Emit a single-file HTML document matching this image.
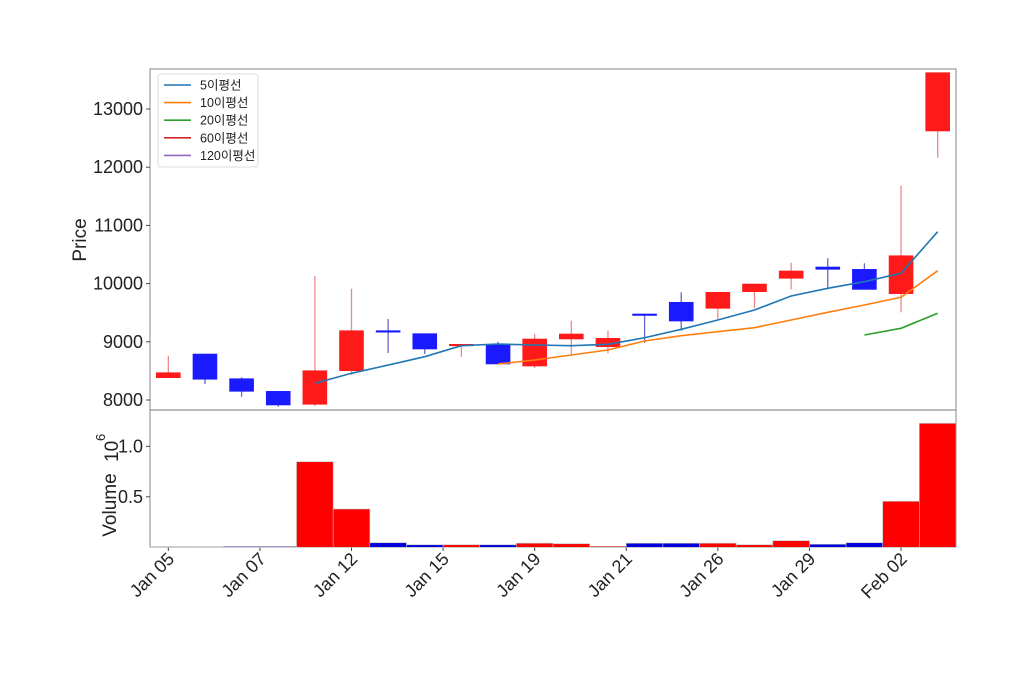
<!DOCTYPE html>
<html><head><meta charset="utf-8"><style>
body{margin:0;background:#fff;}
svg{display:block;font-family:"Liberation Sans","Noto Sans CJK KR",sans-serif;}
</style></head><body>
<svg id="chart" width="1024" height="677"></svg>
<script>
const opens  = [8383,8790,8366,8149,7926,8503,9191,9140,8935,8957,8584,9048,8916,9478,9679,9575,9861,10091,10285,10245,9827,12622];
const closes = [8469,8356,8149,7914,8503,9191,9180,8876,8957,8619,9048,9134,9060,9470,9357,9851,9993,10217,10245,9900,10479,13624];
const highs  = [8761,8790,8390,8149,10131,9912,9392,9140,8960,9002,9134,9363,9191,9478,9851,9851,9993,10359,10435,10349,11682,13624];
const lows   = [8383,8275,8057,7885,7900,8430,8808,8790,8744,8619,8550,8756,8802,8985,9191,9387,9575,9900,9900,9900,9506,12163];
const volumes = [0.003,0.005,0.008,0.008,0.847,0.379,0.045,0.025,0.025,0.025,0.04,0.035,0.01,0.04,0.04,0.04,0.025,0.065,0.03,0.045,0.455,1.227];
const ma5  = [null,null,null,null,8287,8459,8600,8744,8933,8962,8945,8933,8957,9070,9215,9375,9546,9787,9919,10033,10177,10892];
const ma10 = [null,null,null,null,null,null,null,null,null,8619,8687,8773,8859,9014,9105,9174,9243,9375,9507,9632,9765,10222];
const ma20 = [null,null,null,null,null,null,null,null,null,null,null,null,null,null,null,null,null,null,null,9117,9232,9490];
const priceTicks = [8000,9000,10000,11000,12000,13000];
const volTicks = [0.5,1.0];
const xTickPos = [0,2.5,5,7.5,10,12.5,15,17.5,20];
const xTickLabels = ["Jan 05","Jan 07","Jan 12","Jan 15","Jan 19","Jan 21","Jan 26","Jan 29","Feb 02"];
const legendLabels = ["5이평선","10이평선","20이평선","60이평선","120이평선"];
const legendColors = ["#1f77b4","#ff7f0e","#2ca02c","#d62728","#9467bd"];

const NS="http://www.w3.org/2000/svg";
const svg=document.getElementById('chart');
const L=150,R=956,PT=69,PB=410,VT=410,VB=547;
const x=i=>L+(i+0.5)*(R-L)/22;
const yP=p=>109+(13000-p)*58.2/1000;
const yV=v=>547.3-v*101;
const step=(R-L)/22;
function mk(tag,attrs,parent){const e=document.createElementNS(NS,tag);for(const k in attrs)e.setAttribute(k,attrs[k]);(parent||svg).appendChild(e);return e;}

let f=mk('rect',{x:L,y:PT,width:R-L,height:PB-PT,fill:'none',stroke:'#999','stroke-width':1.2});


f=mk('rect',{x:L,y:VT,width:R-L,height:VB-VT,fill:'none',stroke:'#999','stroke-width':1.2});



priceTicks.forEach(p=>{
  const y=yP(p);
  const t=mk('line',{x1:L-4,x2:L,y1:y,y2:y,stroke:'#444'});
  
  
  const tx=mk('text',{x:L-7,y:y+6,'text-anchor':'end','font-size':18,fill:'#222'});
  tx.textContent=p;
  
  
});
volTicks.forEach(v=>{
  const y=yV(v);
  const t=mk('line',{x1:L-4,x2:L,y1:y,y2:y,stroke:'#444'});
  
  
  const tx=mk('text',{x:L-7,y:y+6,'text-anchor':'end','font-size':18,fill:'#222'});
  tx.textContent=v.toFixed(1);
  
  
});
xTickPos.forEach((p,k)=>{
  const xx=x(p);
  const t=mk('line',{x1:xx,x2:xx,y1:VB,y2:VB+4,stroke:'#444'});
  
  
  const tx=mk('text',{x:xx+7,y:VB+13,'text-anchor':'end','font-size':18,fill:'#222',transform:`rotate(-45 ${xx+7} ${VB+13})`});
  tx.textContent=xTickLabels[k];
  
  
});

let at=mk('text',{x:86,y:240,'text-anchor':'middle','font-size':19,fill:'#222',transform:'rotate(-90 86 240)'});
at.textContent='Price';


at=mk('text',{x:116,y:505,'text-anchor':'middle','font-size':19,fill:'#222',transform:'rotate(-90 116 505)'});
at.textContent='Volume';


at=mk('text',{x:118,y:462,'font-size':19,fill:'#222',transform:'rotate(-90 118 462)'});
at.textContent='10';


at=mk('text',{x:105,y:441,'font-size':13,fill:'#222',transform:'rotate(-90 105 441)'});
at.textContent='6';



opens.forEach((o,i)=>{
  const c=closes[i], up=c>=o;
  const col=up?'#ff1a1a':'#1a1aff', wc=up?'#e88':'#66c';
  const xx=x(i);
  const w=mk('line',{x1:xx,x2:xx,y1:yP(highs[i]),y2:yP(lows[i]),stroke:wc,'stroke-width':1.3});
  
  
  const top=yP(Math.max(o,c)), bot=yP(Math.min(o,c));
  const b=mk('rect',{x:xx-12,y:top,width:24,height:Math.max(bot-top,1.5),fill:col,stroke:col,'stroke-width':0.6});
  
  
  const vb=mk('rect',{x:xx-step/2,y:yV(volumes[i]),width:step,height:yV(0)-yV(volumes[i]),fill:up?'#ff0000':'#0000dd',stroke:'#bbb','stroke-width':0.6});
  
  
});

function line(arr,color,name){
  const pts=arr.map((v,i)=>v==null?null:`${x(i)},${yP(v)}`).filter(Boolean).join(' ');
  const pl=mk('polyline',{points:pts,fill:'none',stroke:color,'stroke-width':1.6});
  
  
}
line(ma5,'#1f77b4','ma5-line');
line(ma10,'#ff7f0e','ma10-line');
line(ma20,'#2ca02c','ma20-line');

const lg=mk('g',{});


mk('rect',{x:158,y:74,width:100,height:93,rx:3,fill:'#fff',stroke:'#ddd'},lg);
legendLabels.forEach((lab,k)=>{
  const y=85+k*17.6;
  const g=mk('g',{},lg);
  
  
  mk('line',{x1:164,x2:191,y1:y,y2:y,stroke:legendColors[k],'stroke-width':1.6},g);
  const t=mk('text',{x:200,y:y+4.5,'font-size':12.5,fill:'#222'},g);
  t.textContent=lab;
});
</script>
</body></html>
